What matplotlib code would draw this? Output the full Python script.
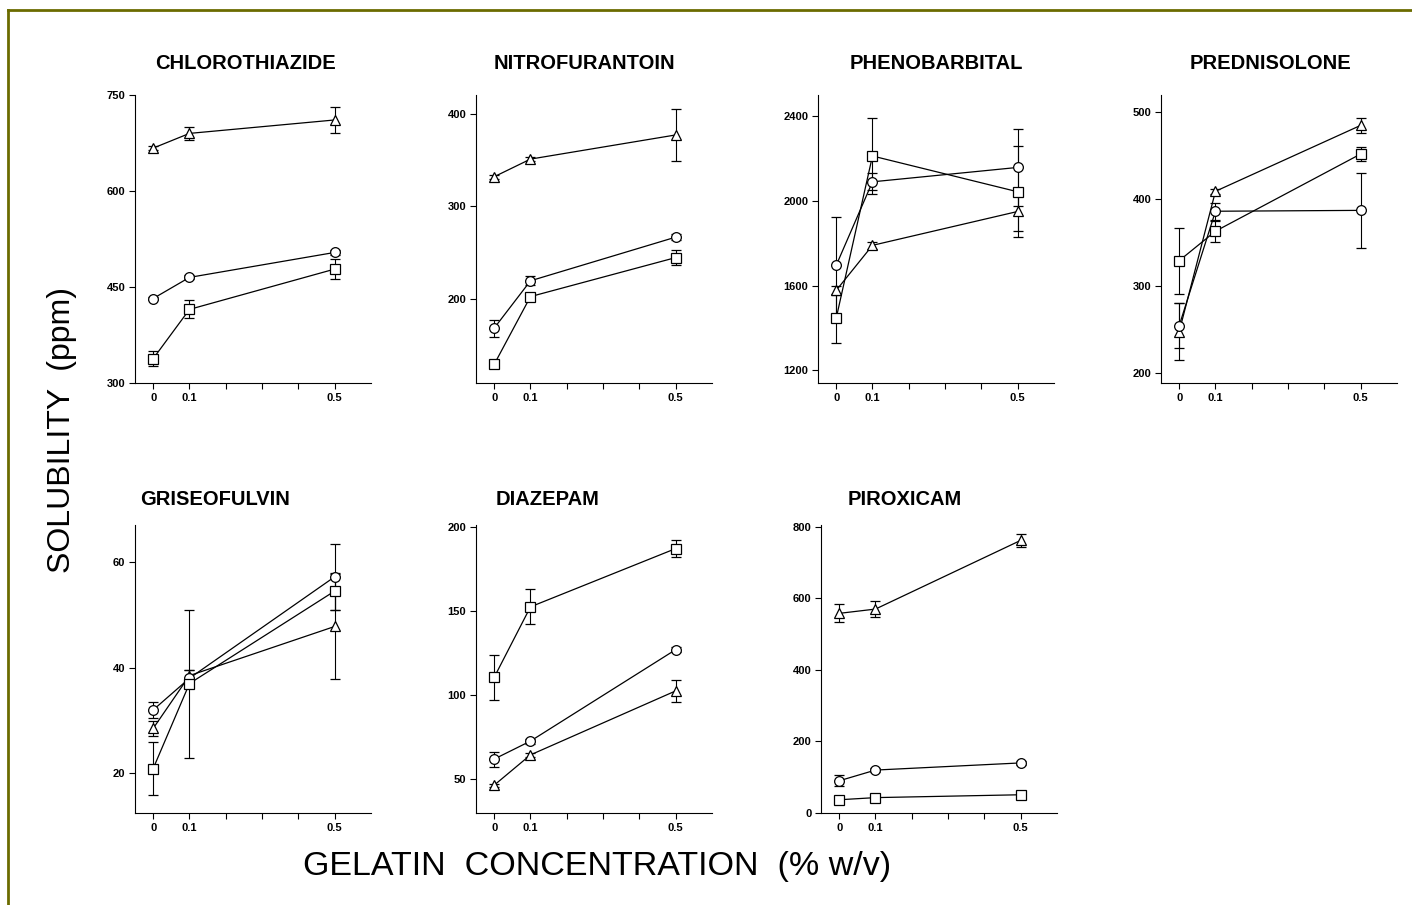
import matplotlib
matplotlib.use("Agg")
import matplotlib.pyplot as plt
from matplotlib.lines import Line2D

plt.rcParams['font.family'] = ['Liberation Sans', 'DejaVu Sans']

# gelatin concentration (% w/v)
gelatin = [0, 0.1, 0.5]

drugs = ['CHLOROTHIAZIDE', 'NITROFURANTOIN', 'PHENOBARBITAL', 'PREDNISOLONE',
         'GRISEOFULVIN', 'DIAZEPAM', 'PIROXICAM']

# solubility (ppm) - triangle / circle / square series, with error bars
chloro_tri = [667, 690, 711]
chloro_tri_err = [3, 10, 20]
chloro_circ = [432, 465, 504]
chloro_circ_err = [3, 3, 4]
chloro_sq = [338, 415, 478]
chloro_sq_err = [12, 14, 15]

nitro_tri = [332, 351, 377]
nitro_tri_err = [2, 2, 28]
nitro_circ = [169, 220, 267]
nitro_circ_err = [9, 5, 3]
nitro_sq = [130, 203, 245]
nitro_sq_err = [2, 3, 8]

pheno_tri = [1577, 1790, 1950]
pheno_tri_err = [20, 15, 90]
pheno_circ = [1695, 2090, 2158]
pheno_circ_err = [230, 40, 180]
pheno_sq = [1445, 2212, 2043]
pheno_sq_err = [115, 180, 215]

pred_tri = [247, 409, 485]
pred_tri_err = [33, 3, 9]
pred_circ = [254, 386, 387]
pred_circ_err = [26, 10, 43]
pred_sq = [329, 363, 452]
pred_sq_err = [38, 12, 8]

griseo_tri = [28.5, 38.5, 47.8]
griseo_tri_err = [1.5, 1.0, 10.0]
griseo_circ = [32.0, 38.0, 57.2]
griseo_circ_err = [1.5, 1.5, 6.2]
griseo_sq = [20.9, 37.0, 54.5]
griseo_sq_err = [5.0, 14.0, 3.5]

diaz_tri = [46.5, 64.5, 102.5]
diaz_tri_err = [1.0, 1.0, 6.5]
diaz_circ = [62.0, 72.7, 127.0]
diaz_circ_err = [4.5, 1.5, 1.5]
diaz_sq = [110.5, 152.4, 187.0]
diaz_sq_err = [13.5, 10.4, 5.0]

pirox_tri = [558, 570, 762]
pirox_tri_err = [25, 22, 18]
pirox_circ = [90, 120, 140]
pirox_circ_err = [15, 6, 5]
pirox_sq = [37, 43, 51]
pirox_sq_err = [3, 3, 3]

tri_series = [chloro_tri, nitro_tri, pheno_tri, pred_tri, griseo_tri, diaz_tri, pirox_tri]
tri_errs = [chloro_tri_err, nitro_tri_err, pheno_tri_err, pred_tri_err,
            griseo_tri_err, diaz_tri_err, pirox_tri_err]
circ_series = [chloro_circ, nitro_circ, pheno_circ, pred_circ, griseo_circ, diaz_circ, pirox_circ]
circ_errs = [chloro_circ_err, nitro_circ_err, pheno_circ_err, pred_circ_err,
             griseo_circ_err, diaz_circ_err, pirox_circ_err]
sq_series = [chloro_sq, nitro_sq, pheno_sq, pred_sq, griseo_sq, diaz_sq, pirox_sq]
sq_errs = [chloro_sq_err, nitro_sq_err, pheno_sq_err, pred_sq_err,
           griseo_sq_err, diaz_sq_err, pirox_sq_err]

y_limits = [(300, 750), (110, 420), (1140, 2500), (188, 520),
            (12.5, 67), (30, 201), (0, 805)]
y_ticks = [[300, 450, 600, 750], [200, 300, 400], [1200, 1600, 2000, 2400],
           [200, 300, 400, 500], [20, 40, 60], [50, 100, 150, 200],
           [0, 200, 400, 600, 800]]

# layout (figure fractions)
W, H = 1412, 905
axes_px = [(135, 95), (476, 95), (818, 95), (1161, 95),
           (135, 525), (476, 525), (821, 525)]
AX_W, AX_H = 236, 288
title_pos = [(0.47, 'center'), (0.46, 'center'), (0.50, 'center'), (0.466, 'center'),
             (0.02, 'left'), (0.084, 'left'), (0.114, 'left')]

fig = plt.figure(figsize=(W / 100, H / 100), dpi=100)

for i, name in enumerate(drugs):
    x0, y0 = axes_px[i]
    ax = fig.add_axes([x0 / W, 1 - (y0 + AX_H) / H, AX_W / W, AX_H / H])

    for vals, errs, mk in [(tri_series[i], tri_errs[i], '^'),
                           (circ_series[i], circ_errs[i], 'o'),
                           (sq_series[i], sq_errs[i], 's')]:
        ax.errorbar(gelatin, vals, yerr=errs, color='black', lw=0.9,
                    elinewidth=0.8, capsize=3.5, capthick=0.8,
                    marker=mk, ms=7, mfc='white', mec='black', mew=0.9)

    ax.set_xlim(-0.05, 0.6)
    ax.set_ylim(*y_limits[i])
    ax.set_xticks(gelatin)
    ax.set_xticklabels(['0', '0.1', '0.5'])
    ax.set_xticks([0.2, 0.3, 0.4], minor=True)
    ax.set_yticks(y_ticks[i])
    ax.spines['top'].set_visible(False)
    ax.spines['right'].set_visible(False)
    ax.tick_params(which='both', direction='out', length=4, width=0.8,
                   labelsize=8, pad=3)
    for lab in ax.get_xticklabels() + ax.get_yticklabels():
        lab.set_fontweight('bold')

    tx, ha = title_pos[i]
    ty = 1.11 if i < 4 else 1.09
    ax.text(tx, ty, name, transform=ax.transAxes, ha=ha, va='center',
            fontsize=14.5, fontweight='bold')

fig.text(0.044, 0.525, 'SOLUBILITY  (ppm)', rotation=90, ha='center',
         va='center', fontsize=23)
fig.text(0.4225, 0.043, 'GELATIN  CONCENTRATION  (% w/v)', ha='center',
         va='center', fontsize=24.5)

# olive frame (top and left)
fig.add_artist(Line2D([8 / W, 8 / W], [0, 1 - 10 / H], color='#6b6b00', lw=2))
fig.add_artist(Line2D([8 / W, 1], [1 - 10 / H, 1 - 10 / H], color='#6b6b00', lw=2))

fig.savefig('out.png', dpi=100, facecolor='white')
